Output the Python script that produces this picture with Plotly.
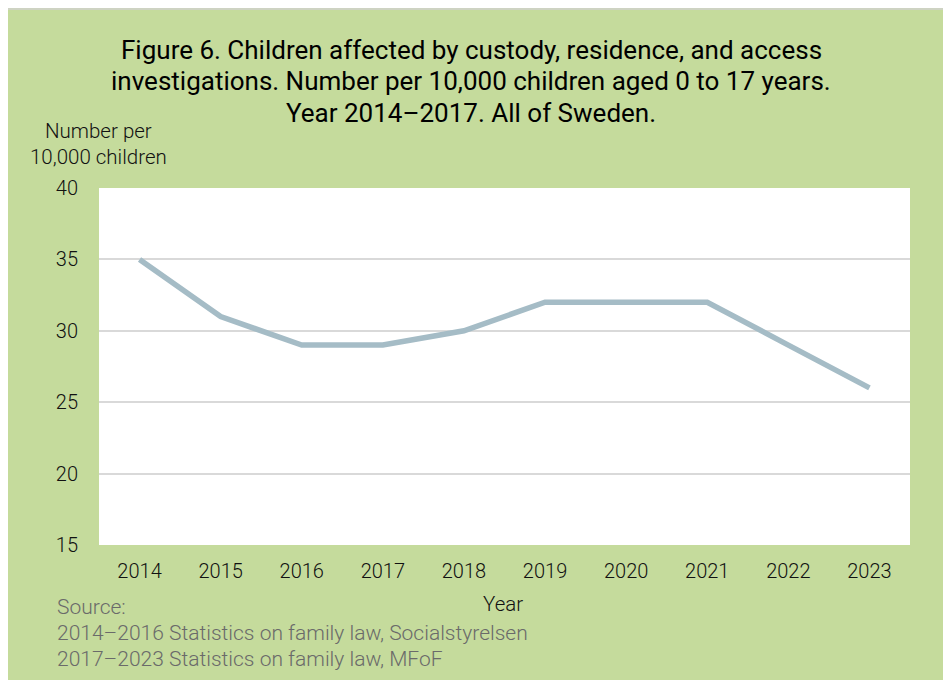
import plotly.graph_objects as go

years = ["2014", "2015", "2016", "2017", "2018", "2019", "2020", "2021", "2022", "2023"]
values = [35, 31, 29, 29, 30, 32, 32, 32, 29, 26]
y_ticks = [15, 20, 25, 30, 35, 40]

# page has an 8px body margin; coordinates below are figure pixels
W, H = 943, 672
L, R, T, B = 91, 41, 180, 135
pw, ph = W - L - R, H - T - B

def px_x(px):
    return (px - L) / pw

def px_y(py):
    return (H - B - py) / ph

GREEN = "#c5db9c"
FONT = "Roboto"

fig = go.Figure()
fig.add_trace(go.Scatter(
    x=years, y=values, mode="lines",
    line=dict(color="#a5bcc6", width=5.5),
    hoverinfo="skip", showlegend=False,
))

fig.add_shape(type="line", xref="paper", yref="paper",
              x0=px_x(0), x1=px_x(W), y0=px_y(1), y1=px_y(1),
              line=dict(color="#d0d0d0", width=1.5))

title_lines = [
    "Figure 6. Children affected by custody, residence, and access",
    "investigations. Number per 10,000 children aged 0 to 17 years.",
    "Year 2014\u20132017. All of Sweden.",
]
for line, yy in zip(title_lines, [42, 73, 105]):
    fig.add_annotation(xref="paper", yref="paper", x=px_x(463), y=px_y(yy),
                       text=line, showarrow=False, xanchor="center", yanchor="middle",
                       font=dict(family=FONT, size=26, color="#000000"))

for line, yy in zip(["Number per", "10,000 children"], [123, 149]):
    fig.add_annotation(xref="paper", yref="paper", x=px_x(90), y=px_y(yy),
                       text=line, showarrow=False, xanchor="center", yanchor="middle",
                       font=dict(family=FONT, size=20.5, color="#111111", weight=300))

fig.add_annotation(xref="paper", yref="paper", x=px_x(495), y=px_y(596),
                   text="Year", showarrow=False, xanchor="center", yanchor="middle",
                   font=dict(family=FONT, size=20.5, color="#111111", weight=300))

source_lines = [
    "Source:",
    "2014\u20132016 Statistics on family law, Socialstyrelsen",
    "2017\u20132023 Statistics on family law, MFoF",
]
for line, yy in zip(source_lines, [599, 625, 651]):
    fig.add_annotation(xref="paper", yref="paper", x=px_x(47), y=px_y(yy),
                       text=line, showarrow=False, xanchor="left", yanchor="middle",
                       font=dict(family=FONT, size=21, color="#6a6a6a", weight=300))

fig.update_layout(
    width=W, height=H,
    margin=dict(l=L, r=R, t=T, b=B),
    paper_bgcolor=GREEN,
    plot_bgcolor="white",
    font=dict(family=FONT, size=20, color="#111111"),
    xaxis=dict(type="category", range=[-0.5, 9.5], showgrid=False, zeroline=False,
               showline=False, ticks="", tickfont=dict(size=20, color="#111111", weight=300),
               ticklabelstandoff=12),
    yaxis=dict(range=[15, 40], tickvals=y_ticks, showgrid=True, gridcolor="#d9d9d9",
               gridwidth=1.5, zeroline=False, showline=False, ticks="",
               tickfont=dict(size=20, color="#111111", weight=300), ticklabelstandoff=20),
)

fig.write_html("out.html")
